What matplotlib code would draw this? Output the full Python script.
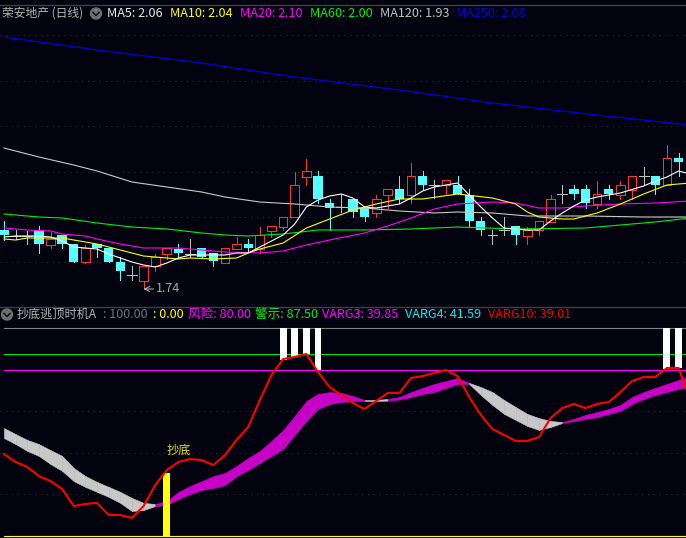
import matplotlib
matplotlib.use('Agg')
import matplotlib.pyplot as plt
from matplotlib.patches import Circle

plt.rcParams['font.family'] = ['Noto Sans CJK SC', 'DejaVu Sans']

BG = '#03030f'
RED = '#ff3232'
CYAN = '#54ffff'
CROSS = '#c0c0c0'
WIDTH, HEIGHT = 686, 538

# candles: high, low, body top, body bottom, kind (r red, c cyan, x cross)
high = [2.012,1.976,1.972,1.992,1.968,1.956,1.920,1.916,1.920,1.904,1.868,1.832,1.832,1.880,1.904,
        1.920,1.940,1.904,1.884,1.904,1.948,1.940,1.988,1.992,2.028,2.208,2.260,2.212,2.100,2.120,
        2.100,2.064,2.116,2.140,2.192,2.244,2.212,2.176,2.176,2.192,2.140,2.028,1.976,2.028,1.992,
        1.988,2.012,2.116,2.156,2.156,2.156,2.172,2.156,2.172,2.192,2.228,2.192,2.316,2.284]
low = [1.936,1.940,1.920,1.884,1.904,1.904,1.848,1.844,1.868,1.848,1.776,1.776,1.740,1.812,1.860,
       1.868,1.868,1.868,1.832,1.844,1.900,1.888,1.884,1.948,1.976,2.028,2.156,2.084,1.976,2.048,
       2.028,2.012,2.028,2.064,2.084,2.084,2.140,2.104,2.120,2.120,1.992,1.956,1.920,1.956,1.920,
       1.920,1.956,2.008,2.084,2.100,2.064,2.064,2.100,2.100,2.100,2.156,2.120,2.156,2.192]
top = [1.976,1.952,1.952,1.976,1.940,1.956,1.920,1.904,1.920,1.904,1.848,1.796,1.832,1.868,1.904,
       1.900,1.880,1.904,1.884,1.904,1.920,1.920,1.956,1.992,2.028,2.156,2.212,2.192,2.084,2.068,
       2.100,2.064,2.100,2.140,2.140,2.192,2.192,2.156,2.176,2.156,2.116,2.012,1.956,1.976,1.992,
       1.976,2.012,2.100,2.120,2.140,2.140,2.120,2.140,2.156,2.192,2.192,2.192,2.264,2.264]
bot = [1.956,1.952,1.952,1.920,1.916,1.920,1.848,1.848,1.904,1.848,1.812,1.796,1.772,1.832,1.880,
       1.884,1.880,1.868,1.852,1.844,1.900,1.904,1.900,1.972,1.988,2.028,2.188,2.100,2.064,2.068,
       2.048,2.028,2.044,2.116,2.100,2.116,2.156,2.156,2.156,2.120,2.012,1.976,1.956,1.976,1.956,
       1.952,1.976,2.008,2.120,2.120,2.084,2.080,2.120,2.116,2.136,2.192,2.156,2.156,2.248]
kind = list('cxxcrcc' 'r' 'ccc' 'x' 'rrr' 'c' 'x' 'cc' 'rr' 'c' 'rrrrr' 'cc' 'x' 'cc' 'rr' 'c' 'r' 'c' 'x' 'r'
            'ccc' 'xx' 'c' 'rrr' 'x' 'cc' 'r' 'c' 'rr' 'x' 'c' 'r' 'c')

# moving averages: bar index and value
ma5_bar = [0,1,3,4,5,6,7,8,9,10,11,12,13,14,15,16,19,20,21,22,23,24,25,26,27,28,29,30,31,32,33,34,35,36,37,39,
           40,41,42,43,44,45,46,47,48,49,50,51,53,55,56,57,58,59]
ma5 = [1.948,1.952,1.952,1.948,1.932,1.908,1.904,1.900,1.880,1.864,1.848,1.836,1.828,1.844,1.864,1.876,1.876,
       1.884,1.884,1.908,1.932,1.956,2.000,2.068,2.096,2.112,2.120,2.104,2.068,2.064,2.072,2.080,2.104,2.132,
       2.148,2.164,2.116,2.068,2.024,1.984,1.980,1.976,1.976,2.012,2.044,2.072,2.096,2.108,2.124,2.152,2.172,
       2.188,2.212,2.200]
ma10_bar = [0,1,2,5,6,8,9,10,11,12,14,15,16,18,20,21,22,24,26,28,30,32,34,36,39,42,44,45,46,47,48,49,51,53,55,57,59]
ma10 = [1.940,1.936,1.944,1.944,1.936,1.920,1.908,1.896,1.884,1.872,1.864,1.860,1.864,1.860,1.864,1.884,1.900,
        1.924,1.984,2.020,2.056,2.080,2.100,2.100,2.120,2.104,2.080,2.048,2.028,2.024,2.020,2.020,2.044,2.080,
        2.120,2.156,2.164]
ma20_bar = [0,2,4,5,7,8,10,11,12,15,17,19,22,24,26,28,31,33,35,37,39,42,44,46,48,50,53,56,59]
ma20 = [1.984,1.976,1.972,1.960,1.952,1.940,1.920,1.912,1.904,1.904,1.896,1.888,1.884,1.892,1.916,1.936,1.964,
        1.992,2.024,2.060,2.080,2.088,2.084,2.064,2.064,2.072,2.080,2.084,2.092]
ma60_bar = [0,3,5,8,11,14,17,19,21,24,27,31,35,39,44,50,53,56,59]
ma60 = [2.040,2.028,2.024,2.004,1.988,1.980,1.964,1.956,1.952,1.960,1.976,1.976,1.980,1.988,1.980,1.984,1.996,
        2.008,2.024]
ma120_bar = [0,3,6,8,11,14,17,19,22,25,28,31,34,37,39,42,45,50,55,59]
ma120 = [2.304,2.268,2.236,2.212,2.168,2.148,2.128,2.108,2.088,2.080,2.068,2.064,2.052,2.044,2.048,2.044,2.032,
         2.032,2.028,2.028]
ma250_bar = [0,8,17,25,34,42,51,59]
ma250 = [2.748,2.696,2.644,2.588,2.536,2.484,2.436,2.396]
price_grid = [2.756,2.574,2.392,2.210,2.028,1.848]

# lower panel, 0-100 scale
varg3 = [51.9,49.0,46.2,44.2,41.3,38.5,32.7,28.8,26.0,23.6,21.2,18.3,15.9,15.4,16.8,21.2,24.0,26.4,28.8,30.3,
         33.7,37.5,40.9,45.7,51.0,57.7,64.9,68.3,69.2,68.8,67.3,65.4,65.4,65.9,66.8,69.2,71.2,73.1,74.5,76.0,
         73.6,71.6,69.2,65.4,62.0,58.7,56.7,55.3,54.8,56.3,58.2,59.6,61.1,63.0,66.8,69.2,71.2,73.1,75.0,76.9]
varg4 = [47.1,44.2,40.9,38.5,34.6,31.3,26.4,23.6,21.2,18.8,15.9,12.0,12.5,14.4,14.9,17.8,20.2,22.1,23.1,24.5,
         28.8,31.7,35.1,38.5,41.8,48.6,55.3,61.1,63.5,64.4,64.9,64.9,64.9,65.1,65.6,66.8,68.3,69.2,71.2,73.1,
         73.1,67.8,63.0,58.7,55.8,52.9,51.0,52.4,54.3,55.3,56.3,57.2,58.7,60.1,63.5,65.9,67.8,69.2,70.7,72.1]
varg10 = [39.4,35.6,33.2,28.8,26.4,22.6,14.4,15.4,15.9,10.1,10.1,8.7,14.4,24.5,31.7,35.6,37.0,36.5,34.1,38.9,
          46.2,52.4,65.4,77.4,85.1,86.1,87.5,78.8,71.6,67.8,63.9,61.1,64.9,68.8,68.8,76.0,76.9,78.4,79.8,76.9,
          66.8,58.2,51.4,48.6,45.7,45.7,47.6,56.7,61.5,63.5,61.5,63.5,64.4,69.2,74.5,76.4,76.4,80.8,80.8,65.4]
# 1 where the band is magenta, 0 where it is grey
band_up = [0]*13 + [1]*18 + [0]*2 + [1]*7 + [0]*8 + [1]*11
top_bars = [24,25,26,27,57,58]
top_bar_low = [84.6,86.0,87.5,80.0,80.3,80.8]
buy_bar = 14
buy_top = 30.4
ind_grid = [60,40,20]


def to_fig_y(y):
    return 1 - y / HEIGHT


fig = plt.figure(figsize=(WIDTH / 100, HEIGHT / 100), dpi=100, facecolor=BG)

# bar i sits at pixel 4 + 11.63 * i
xlim = (-4 / 11.63, (WIDTH - 4) / 11.63)

ax1 = fig.add_axes([0, to_fig_y(305), 1, (305 - 23) / HEIGHT], facecolor=BG)
ax2 = fig.add_axes([0, 0, 1, (538 - 323) / HEIGHT], facecolor=BG)
ax1.set_xlim(xlim)
ax2.set_xlim(xlim)
ax1.set_ylim(2.896 - 0.004 * 305, 2.896 - 0.004 * 23)
ax2.set_ylim((536 - 538) / 2.08, (536 - 323) / 2.08)
for ax in (ax1, ax2):
    ax.axis('off')

for g in price_grid:
    ax1.axhline(g, color='#333333', lw=0.7, ls=(0, (1, 5)), zorder=1)

LW = 0.7

# candles
for i, k in enumerate(kind):
    if k == 'x':
        ax1.plot([i, i], [low[i], high[i]], color=CROSS, lw=LW, zorder=2, antialiased=False)
        ax1.plot([i - 0.42, i + 0.42], [top[i], top[i]], color=CROSS, lw=LW, zorder=2, antialiased=False)
    elif k == 'c':
        ax1.plot([i, i], [low[i], high[i]], color=CYAN, lw=LW, zorder=2, antialiased=False)
        ax1.bar(i, top[i] - bot[i], bottom=bot[i], width=0.8, color=CYAN, zorder=2)
    else:
        ax1.plot([i, i], [top[i], high[i]], color=RED, lw=LW, zorder=2, antialiased=False)
        ax1.plot([i, i], [low[i], bot[i]], color=RED, lw=LW, zorder=2, antialiased=False)
        ax1.bar(i, top[i] - bot[i], bottom=bot[i], width=0.75, facecolor='none', edgecolor=RED,
                lw=LW, zorder=2, antialiased=False)

ax1.plot(ma120_bar, ma120, color='#c8c8c8', lw=0.8, zorder=3)
ax1.plot(ma60_bar, ma60, color='#00f000', lw=0.8, zorder=3)
ax1.plot(ma20_bar, ma20, color='#ff00ff', lw=0.8, zorder=3)
ax1.plot(ma10_bar, ma10, color='#ffff00', lw=0.8, zorder=3)
ax1.plot(ma5_bar, ma5, color='#ffffff', lw=0.8, zorder=3)
ax1.plot(ma250_bar, ma250, color='#0000e0', lw=0.9, zorder=3)

ax1.annotate('1.74', xy=(12, 1.74), xytext=(13.1, 1.74), color='#a8a8a8', fontsize=9.0,
             va='center', arrowprops=dict(arrowstyle='->', color='#c0c0c0', lw=0.7, shrinkA=0, shrinkB=0))

# lower panel
for g in ind_grid:
    ax2.axhline(g, color='#333333', lw=0.7, ls=(0, (1, 5)), zorder=1)
ax2.axhline(100, xmin=4 / WIDTH, color='#808080', lw=0.8, zorder=1)
ax2.axhline(87.5, xmin=4 / WIDTH, color='#00e000', lw=0.8, zorder=1)
ax2.axhline(80, xmin=4 / WIDTH, color='#ff00ff', lw=0.8, zorder=1)
ax2.axhline(0, xmin=4 / WIDTH, color='#ffff00', lw=0.8, zorder=1)

for i, up in enumerate(band_up):
    c = '#c800c8' if up else '#c8c8c8'
    ax2.fill_between([i, i + 1], [varg4[i], varg4[i + 1]], [varg3[i], varg3[i + 1]],
                     facecolor=c, edgecolor=c, lw=0.4, zorder=2)

for b, lo in zip(top_bars, top_bar_low):
    ax2.bar(b, 100 - lo, bottom=lo, width=0.6, color='white', zorder=3)
ax2.bar(buy_bar, buy_top, width=0.6, color='#ffff00', zorder=3)
ax2.plot(range(len(varg10)), varg10, color='#ff0000', lw=1.5, zorder=4)
ax2.text(buy_bar + 1, 41, '抄底', color='#e0e000', fontsize=8.8, ha='center', va='center')

# separators
fig.add_artist(plt.Line2D([0, 1], [to_fig_y(4.5)] * 2, color='#404040', lw=1))
fig.add_artist(plt.Line2D([0, 1], [to_fig_y(306.5)] * 2, color='#404040', lw=1))

# header texts
top_labels = [(2, '荣安地产 (日线)', '#b4b4b4', 8.5), (107, 'MA5: 2.06', '#e8e8e8', 9.1),
              (170, 'MA10: 2.04', '#ffff00', 9.1), (240, 'MA20: 2.10', '#ff00ff', 9.1),
              (310, 'MA60: 2.00', '#00f000', 9.1), (380, 'MA120: 1.93', '#c0c0c0', 9.1),
              (456, 'MA250: 2.08', '#0000e0', 9.1)]
low_labels = [(17, '抄底逃顶时机A', '#b4b4b4', 8.7), (103, ': 100.00', '#707070', 9.1), (153, ': 0.00', '#ffff00', 9.1),
              (188, '风险: 80.00', '#ff00ff', 9.1), (255, '警示: 87.50', '#00f000', 9.1),
              (322, 'VARG3: 39.85', '#ff00ff', 9.1), (405, 'VARG4: 41.59', '#00f0f0', 9.1),
              (488, 'VARG10: 39.01', '#f00000', 9.1)]
for x, s, c, fs in top_labels:
    fig.text(x / WIDTH, to_fig_y(13.5), s, color=c, fontsize=fs, va='center')
for x, s, c, fs in low_labels:
    fig.text(x / WIDTH, to_fig_y(314.5), s, color=c, fontsize=fs, va='center')

# collapse icons
for cx, cy in [(96, 13.5), (7, 314.5)]:
    fig.add_artist(Circle((cx, HEIGHT - cy), 5.5, transform=None, color='#707070'))
    fig.add_artist(plt.Line2D([cx - 3, cx, cx + 3], [HEIGHT - cy + 1, HEIGHT - cy - 2, HEIGHT - cy + 1],
                              transform=None, color='#101010', lw=1.1))

fig.savefig('out.png', dpi=100, facecolor=BG)
